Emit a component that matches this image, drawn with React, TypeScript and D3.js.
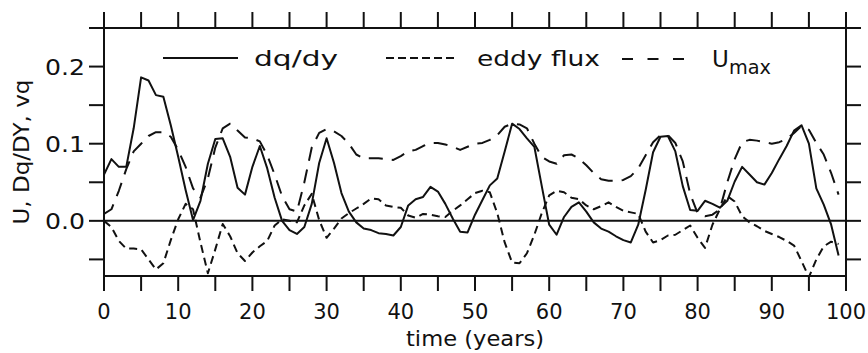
import React from 'react';
import * as d3 from 'd3';

// time axis (years)
const xTickLabels = ['0', '10', '20', '30', '40', '50', '60', '70', '80', '90', '100'];
const xTickValues = [0, 10, 20, 30, 40, 50, 60, 70, 80, 90, 100];
const xMinorValues = [0, 5, 10, 15, 20, 25, 30, 35, 40, 45, 50, 55, 60, 65, 70, 75, 80, 85, 90, 95, 100];
const yTickLabels = ['0.0', '0.1', '0.2'];
const yTickValues = [0.0, 0.1, 0.2];
const yMinorValues = [-0.05, 0, 0.05, 0.1, 0.15, 0.2, 0.25];

// dq/dy (solid)
const dqdy = [
  0.060, 0.080, 0.070, 0.070, 0.120, 0.186, 0.182, 0.163, 0.161, 0.124,
  0.083, 0.040, 0.001, 0.026, 0.074, 0.106, 0.107, 0.083, 0.043, 0.034,
  0.070, 0.097, 0.068, 0.030, 0.000, -0.012, -0.017, -0.008, 0.022, 0.075,
  0.107, 0.075, 0.036, 0.012, -0.002, -0.010, -0.012, -0.016, -0.017, -0.019,
  -0.008, 0.020, 0.028, 0.031, 0.044, 0.038, 0.022, 0.003, -0.014, -0.015,
  0.008, 0.027, 0.046, 0.055, 0.090, 0.126, 0.119, 0.107, 0.096, 0.045,
  -0.005, -0.018, 0.005, 0.018, 0.024, 0.012, -0.002, -0.010, -0.014, -0.020,
  -0.025, -0.028, -0.005, 0.040, 0.089, 0.109, 0.110, 0.090, 0.045, 0.014,
  0.013, 0.026, 0.022, 0.017, 0.026, 0.051, 0.070, 0.060, 0.050, 0.047,
  0.062, 0.080, 0.097, 0.117, 0.124, 0.100, 0.042, 0.021, -0.005, -0.045,
];

// eddy flux (short dashes)
const eddyFlux = [
  0.000, -0.008, -0.026, -0.036, -0.036, -0.037, -0.050, -0.063, -0.055, -0.025,
  0.002, 0.022, 0.015, -0.028, -0.068, -0.037, -0.004, -0.020, -0.042, -0.052,
  -0.041, -0.033, -0.026, -0.006, 0.002, 0.000, -0.002, 0.020, 0.035, 0.001,
  -0.022, -0.010, 0.003, 0.010, 0.016, 0.022, 0.029, 0.028, 0.020, 0.018,
  0.017, 0.007, 0.004, 0.009, 0.008, 0.006, 0.005, 0.013, 0.020, 0.028,
  0.036, 0.039, 0.037, 0.010, -0.028, -0.054, -0.055, -0.042, -0.018, 0.010,
  0.033, 0.039, 0.037, 0.030, 0.028, 0.020, 0.015, 0.019, 0.024, 0.018,
  0.013, 0.011, 0.009, -0.014, -0.028, -0.025, -0.019, -0.018, -0.012, -0.006,
  -0.022, -0.035, -0.005, 0.015, 0.032, 0.025, 0.006, -0.002, -0.007, -0.013,
  -0.017, -0.021, -0.026, -0.032, -0.052, -0.073, -0.050, -0.033, -0.027, -0.030,
];

// U_max (long dashes)
const uMax = [
  0.009, 0.015, 0.039, 0.067, 0.090, 0.100, 0.110, 0.115, 0.115, 0.109,
  0.092, 0.070, 0.042, 0.030, 0.055, 0.095, 0.120, 0.126, 0.117, 0.108,
  0.107, 0.103, 0.085, 0.060, 0.032, 0.015, 0.012, 0.050, 0.095, 0.114,
  0.119, 0.116, 0.110, 0.100, 0.086, 0.081, 0.081, 0.081, 0.080, 0.079,
  0.084, 0.090, 0.092, 0.097, 0.101, 0.101, 0.099, 0.096, 0.092, 0.096,
  0.100, 0.101, 0.105, 0.111, 0.122, 0.126, 0.125, 0.120, 0.100, 0.083,
  0.077, 0.074, 0.085, 0.086, 0.081, 0.072, 0.062, 0.054, 0.052, 0.052,
  0.053, 0.058, 0.068, 0.085, 0.102, 0.111, 0.111, 0.101, 0.077, 0.035,
  0.010, 0.006, 0.008, 0.015, 0.050, 0.080, 0.102, 0.105, 0.104, 0.102,
  0.100, 0.102, 0.106, 0.114, 0.123, 0.118, 0.101, 0.086, 0.062, 0.034,
];

const W = 868;
const H = 353;
const FONT = "'DejaVu Sans', Verdana, sans-serif";

export default function App() {
  const x = d3.scaleLinear().domain([0, 100]).range([104, 846]);
  const y = d3.scaleLinear().domain([-0.0715, 0.25]).range([276, 28]);
  const [x0, x1] = x.range();
  const [yb, yt] = y.range();
  const tick = 15;

  const line = d3
    .line<number>()
    .x((_, i) => x(i))
    .y((d) => y(d));

  const stroke = '#111';

  return (
    <svg
      width={W}
      height={H}
      viewBox={`0 0 ${W} ${H}`}
      style={{ position: 'absolute', left: 0, top: 0, background: '#fff' }}
      fontFamily={FONT}
    >
      <defs>
        <clipPath id="plotClip">
          <rect x={x0} y={yt} width={x1 - x0} height={yb - yt} />
        </clipPath>
      </defs>
      <rect x={0} y={0} width={W} height={H} fill="#fff" />

      {/* frame */}
      <rect x={x0} y={yt} width={x1 - x0} height={yb - yt} fill="none" stroke={stroke} strokeWidth={2} />

      {/* top & bottom ticks */}
      {xMinorValues.map((v) => (
        <g key={'xt' + v}>
          <line x1={x(v)} x2={x(v)} y1={yt} y2={yt - tick - 1} stroke={stroke} strokeWidth={2} />
          <line x1={x(v)} x2={x(v)} y1={yb} y2={yb + tick} stroke={stroke} strokeWidth={2} />
        </g>
      ))}
      {/* left & right ticks */}
      {yMinorValues.map((v) => (
        <g key={'yt' + v}>
          <line x1={x0} x2={x0 - tick} y1={y(v)} y2={y(v)} stroke={stroke} strokeWidth={2} />
          <line x1={x1} x2={x1 + tick} y1={y(v)} y2={y(v)} stroke={stroke} strokeWidth={2} />
        </g>
      ))}

      {/* x tick labels */}
      {xTickValues.map((v, i) => (
        <text key={'xl' + v} x={x(v)} y={319} textAnchor="middle" fontSize={21} fill={stroke}>
          {xTickLabels[i]}
        </text>
      ))}
      {/* y tick labels */}
      {yTickValues.map((v, i) => (
        <text
          key={'yl' + v}
          x={85}
          y={y(v) + 8}
          textAnchor="end"
          fontSize={21}
          fill={stroke}
          textLength={40}
          lengthAdjust="spacingAndGlyphs"
        >
          {yTickLabels[i]}
        </text>
      ))}

      {/* axis titles */}
      <text x={(x0 + x1) / 2} y={346} textAnchor="middle" fontSize={21} fill={stroke} textLength={138} lengthAdjust="spacingAndGlyphs">
        time (years)
      </text>
      <text
        transform={`translate(29, ${(yt + yb) / 2}) rotate(-90)`}
        textAnchor="middle"
        fontSize={21}
        fill={stroke}
        textLength={145}
        lengthAdjust="spacingAndGlyphs"
      >
        U, Dq/DY, vq
      </text>

      {/* zero line */}
      <line x1={x0} x2={x1} y1={y(0)} y2={y(0)} stroke={stroke} strokeWidth={2} />

      {/* series */}
      <g clipPath="url(#plotClip)" fill="none" stroke={stroke} strokeWidth={2} strokeLinejoin="round">
        <path d={line(dqdy) || ''} />
        <path d={line(eddyFlux) || ''} strokeDasharray="8,5" />
        <path d={line(uMax) || ''} strokeDasharray="14,9" />
      </g>

      {/* legend */}
      <line x1={163} x2={238} y1={58} y2={58} stroke={stroke} strokeWidth={2} />
      <text x={254} y={66} fontSize={22} fill={stroke} textLength={84} lengthAdjust="spacingAndGlyphs">
        dq/dy
      </text>
      <line x1={386} x2={455} y1={58} y2={58} stroke={stroke} strokeWidth={2} strokeDasharray="8,4" />
      <text x={477} y={66} fontSize={22} fill={stroke} textLength={123} lengthAdjust="spacingAndGlyphs">
        eddy flux
      </text>
      <line x1={622} x2={684} y1={59} y2={59} stroke={stroke} strokeWidth={2} strokeDasharray="11,14.5" />
      <text x={712} y={67} fontSize={23} fill={stroke}>
        U
      </text>
      <text x={729} y={74} fontSize={19} fill={stroke} textLength={42} lengthAdjust="spacingAndGlyphs">
        max
      </text>
    </svg>
  );
}
